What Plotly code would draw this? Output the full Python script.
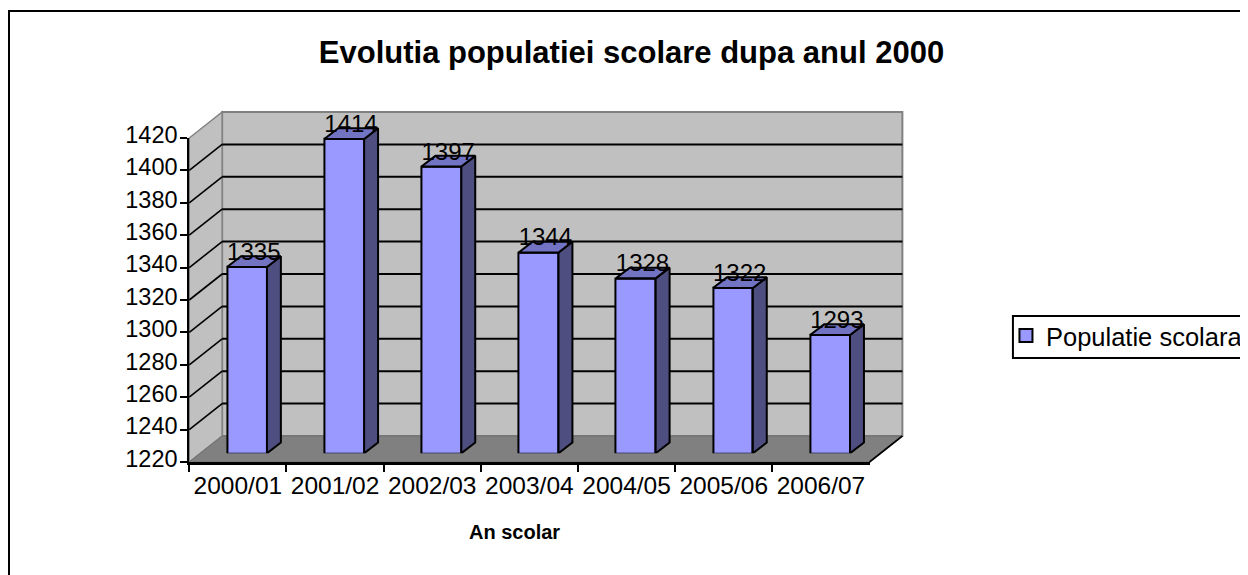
import plotly.graph_objects as go

categories = ["2000/01", "2001/02", "2002/03", "2003/04", "2004/05", "2005/06", "2006/07"]
values = [1335, 1414, 1397, 1344, 1328, 1322, 1293]
y_ticks = [1220, 1240, 1260, 1280, 1300, 1320, 1340, 1360, 1380, 1400, 1420]
series_name = "Populatie scolara"

PAGE = 8                   # default body margin of the page
W, H = 1248 - PAGE, 575 - PAGE
X0, X1 = 190.0, 873.0      # front floor edge
Y0, Y1 = 462.0, 138.0      # front 1220 / 1420
DX, DY = 33.0, -26.0       # full chart depth
BAR_DX, BAR_DY = 9.2, -8.7 # bars' front plane
SIDE_DX, SIDE_DY = 14.0, -10.7
LABEL_UP = 3.5
BAR_W = 0.41
HEADROOM = 30              # extra value range above the top tick, for the bars' labels
YMIN, YMAX = y_ticks[0], y_ticks[-1]
unit_x = (X1 - X0) / len(categories)
unit_y = (Y0 - Y1) / (YMAX - YMIN)

def fx(p): return (p - PAGE) / W
def fy(p): return 1 - (p - PAGE) / H
def py(v): return Y0 - (v - YMIN) * unit_y

def poly(points, fill, line=None, width=0):
    path = "M" + " L".join(f"{fx(a):.5f},{fy(b):.5f}" for a, b in points) + " Z"
    return dict(type="path", xref="paper", yref="paper", path=path, fillcolor=fill,
                line=dict(color=line or fill, width=width), layer="below")

def seg(a, b, color="#000000", width=1.6):
    return dict(type="line", xref="paper", yref="paper", x0=fx(a[0]), y0=fy(a[1]), x1=fx(b[0]), y1=fy(b[1]),
                line=dict(color=color, width=width), layer="below")

shapes = [
    dict(type="rect", xref="paper", yref="paper", x0=fx(9), y0=fy(11), x1=fx(1300), y1=fy(700),
         line=dict(color="#000000", width=2), fillcolor="rgba(0,0,0,0)", layer="below"),
    poly([(X0 + DX, Y0 + DY), (X0 + DX, Y1 + DY), (X1 + DX, Y1 + DY), (X1 + DX, Y0 + DY)], "#C0C0C0", "#808080", 2),
    poly([(X0, Y0), (X0, Y1), (X0 + DX, Y1 + DY), (X0 + DX, Y0 + DY)], "#C0C0C0", "#808080", 1.5),
    poly([(X0, Y0), (X1, Y0), (X1 + DX, Y0 + DY), (X0 + DX, Y0 + DY)], "#808080", "#707070", 1),
]
for t in y_ticks[1:-1]:
    shapes.append(seg((X0, py(t)), (X0 + DX, py(t) + DY)))
    shapes.append(seg((X0 + DX, py(t) + DY), (X1 + DX, py(t) + DY), width=2))
shapes.append(seg((X1, Y0), (X1 + DX, Y0 + DY)))
# legend frame
shapes.append(dict(type="rect", xref="paper", yref="paper", x0=fx(1017), y0=fy(316), x1=fx(1300), y1=fy(358),
                   line=dict(color="#000000", width=2), fillcolor="#FFFFFF", layer="below"))

xs = list(range(len(categories)))
hw = BAR_W / 2
sx = SIDE_DX / unit_x
sy = -SIDE_DY / unit_y

side_x, side_y, top_x, top_y = [], [], [], []
for i, v in zip(xs, values):
    side_x += [i + hw, i + hw + sx, i + hw + sx, i + hw, i + hw, None]
    side_y += [YMIN, YMIN + sy, v + sy, v, YMIN, None]
    top_x += [i - hw, i - hw + sx, i + hw + sx, i + hw, i - hw, None]
    top_y += [v, v + sy, v + sy, v, v, None]

fig = go.Figure()
fig.add_trace(go.Scatter(x=categories, y=values, mode="markers", marker=dict(opacity=0),
                         showlegend=False, hoverinfo="skip", xaxis="x", yaxis="y"))
fig.add_trace(go.Scatter(x=categories, y=values, mode="markers", marker=dict(opacity=0),
                         showlegend=False, hoverinfo="skip", xaxis="x", yaxis="y3"))
fig.add_trace(go.Scatter(x=side_x, y=side_y, mode="lines", fill="toself", fillcolor="#4E4E80",
                         line=dict(color="#000000", width=2), showlegend=False, hoverinfo="skip",
                         cliponaxis=False, xaxis="x2", yaxis="y2"))
fig.add_trace(go.Scatter(x=top_x, y=top_y, mode="lines", fill="toself", fillcolor="#7373C4",
                         line=dict(color="#000000", width=2), showlegend=False, hoverinfo="skip",
                         cliponaxis=False, xaxis="x2", yaxis="y2"))
fig.add_trace(go.Bar(x=xs, y=[v - YMIN for v in values], base=YMIN, width=BAR_W, name=series_name,
                     marker=dict(color="#9999FF", line=dict(color="#000000", width=2)),
                     showlegend=False, cliponaxis=False, xaxis="x2", yaxis="y2"))
fig.add_trace(go.Scatter(x=[i + 0.07 for i in xs], y=[v + 8 for v in values], mode="text",
                         text=[str(v) for v in values], textposition="middle center",
                         textfont=dict(size=24, color="#000000", family="Liberation Sans"),
                         showlegend=False, cliponaxis=False, xaxis="x2", yaxis="y2"))
fig.add_trace(go.Scatter(x=[None], y=[None], mode="markers", name=series_name,
                         marker=dict(symbol="square", size=13, color="#9999FF",
                                     line=dict(color="#000000", width=2)),
                         xaxis="x", yaxis="y"))

FONT = "Liberation Sans"
n = len(categories)
fig.update_layout(
    template="none",
    width=W, height=H, margin=dict(l=0, r=0, t=0, b=0, pad=0), autosize=False,
    paper_bgcolor="#FFFFFF", plot_bgcolor="rgba(0,0,0,0)",
    font=dict(family=FONT, color="#000000", size=23),
    title=dict(text="<b>Evolutia populatiei scolare dupa anul 2000</b>", x=fx(634), xref="paper", xanchor="center",
               y=fy(52), yref="paper", yanchor="middle", font=dict(size=31, family=FONT, color="#000000")),
    shapes=shapes, bargap=0,
    xaxis=dict(domain=[fx(X0), fx(X1)], type="category", categoryorder="array", categoryarray=categories,
               range=[-0.5, n - 0.5], tickson="boundaries", ticks="outside", ticklen=7, tickwidth=2, tickangle=0,
               tickcolor="#000000", showline=True, linecolor="#000000", linewidth=3, showgrid=False,
               zeroline=False, automargin=False, tickfont=dict(size=24.5, family=FONT), anchor="y", fixedrange=True),
    yaxis=dict(domain=[fy(Y0), fy(Y1)], range=[YMIN, YMAX], tickvals=y_ticks, showticklabels=False,
               ticks="outside", ticklen=7, tickwidth=2, tickcolor="#000000", showline=True, linecolor="#000000",
               linewidth=2, showgrid=False, zeroline=False, automargin=False, anchor="x", fixedrange=True),
    yaxis3=dict(domain=[fy(Y0 - LABEL_UP), fy(Y1 - LABEL_UP)], range=[YMIN, YMAX], tickvals=y_ticks,
                ticks="outside", ticklen=7, tickcolor="rgba(0,0,0,0)", showline=False, showgrid=False,
                zeroline=False, automargin=False, tickfont=dict(size=23.5, family=FONT),
                anchor="free", position=fx(X0), fixedrange=True),
    xaxis2=dict(domain=[fx(X0 + BAR_DX), fx(X1 + BAR_DX)], range=[-0.5, n - 0.5], visible=False,
                automargin=False, anchor="y2", fixedrange=True),
    yaxis2=dict(domain=[fy(Y0 + BAR_DY), fy(Y1 + BAR_DY - HEADROOM * unit_y)], range=[YMIN, YMAX + HEADROOM],
                visible=False, automargin=False, anchor="x2", fixedrange=True),
    legend=dict(x=fx(1010), xanchor="left", y=fy(336), yanchor="middle", bgcolor="rgba(0,0,0,0)",
                borderwidth=0, font=dict(size=25.5, family=FONT)),
    annotations=[dict(text="<b>An scolar</b>", xref="paper", yref="paper", x=fx(517), y=fy(532),
                      xanchor="center", yanchor="middle", showarrow=False,
                      font=dict(size=20, family=FONT, color="#000000"))],
)
fig.write_html("out.html")
